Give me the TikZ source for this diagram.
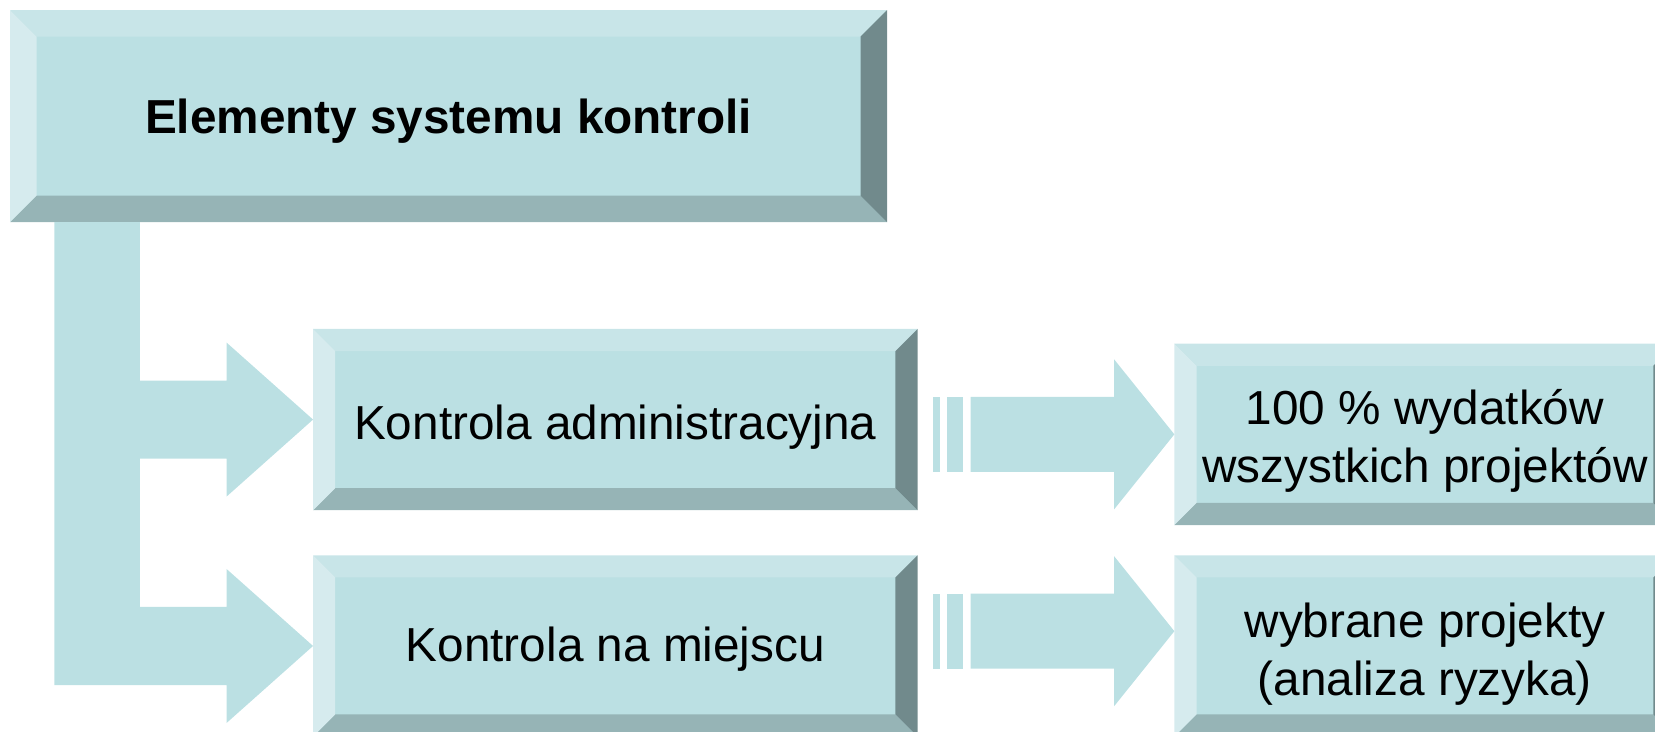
\documentclass[tikz,border=0pt]{standalone}
\usepackage{fontspec}
\setmainfont{Liberation Sans}
\usetikzlibrary{calc}

\definecolor{boxfill}{RGB}{187,224,227}
\definecolor{bevtop}{RGB}{200,229,232}
\definecolor{bevleft}{RGB}{214,235,238}
\definecolor{bevbottom}{RGB}{150,180,182}
\definecolor{bevright}{RGB}{113,138,140}

\tikzset{
    pole/.style={rectangle, fill=boxfill, inner sep=0pt, align=center,
        font=\fontsize{22.6}{27.5}\selectfont},
    flow/.style={fill=boxfill},
}

% ramka 3D wokol wezla: #1 nazwa, #2 szerokosc skosu
\newcommand{\bevel}[2]{
    \fill[bevtop] (#1.north west) -- (#1.north east) -- ($(#1.north east)+(-#2,#2)$) -- ($(#1.north west)+(#2,#2)$) -- cycle;
    \fill[bevbottom] (#1.south west) -- (#1.south east) -- ($(#1.south east)+(-#2,-#2)$) -- ($(#1.south west)+(#2,-#2)$) -- cycle;
    \fill[bevleft] (#1.north west) -- ($(#1.north west)+(#2,#2)$) -- ($(#1.south west)+(#2,-#2)$) -- (#1.south west) -- cycle;
    \fill[bevright] (#1.north east) -- ($(#1.north east)+(-#2,#2)$) -- ($(#1.south east)+(-#2,-#2)$) -- (#1.south east) -- cycle;
}

\begin{document}
\begin{tikzpicture}[x=0.5pt,y=-0.5pt]
    \useasboundingbox (0,0) rectangle (1568,693);
    \clip (0,0) rectangle (1568,693);

    \node[pole, minimum width=415pt, minimum height=100pt] (elem) at (425,110) {};
    \node[pole, minimum width=286pt, minimum height=85.5pt] (admin) at (583,397.5) {};
    \node[pole, minimum width=286pt, minimum height=85.5pt] (site) at (583,612) {};
    \node[pole, minimum width=237pt, minimum height=85.5pt] (wyd) at (1350,411.5) {};
    \node[pole, minimum width=237pt, minimum height=85.5pt] (wybr) at (1350,612) {};

    \bevel{elem}{25}
    \bevel{admin}{21}
    \bevel{site}{21}
    \bevel{wyd}{21}
    \bevel{wybr}{21}

    \node[pole, fill=none, font=\fontsize{22.6}{27.5}\selectfont\bfseries] at ($(elem.center)+(0,5)$) {Elementy systemu kontroli};
    \node[pole, fill=none] at ($(admin.center)+(0,7)$) {Kontrola administracyjna};
    \node[pole, fill=none] at ($(site.center)+(0,3)$) {Kontrola na miejscu};
    \node[pole, fill=none] at ($(wyd.center)+(0,6)$) {100 \% wydatków\\wszystkich projektów};
    \node[pole, fill=none] at ($(wybr.center)+(0,8)$) {wybrane projekty\\(analiza ryzyka)};

    % strzalka rozgaleziona
    \fill[flow] ($(elem.south west)+(42,0)$) -- ++(81,0) |- ($(admin.west)+(-82,-37)$)
        -- ++(0,-36) -- (admin.west) -- ++(-82,73) -- ++(0,-36) -- ++(-82,0)
        |- ($(site.west)+(-82,-37)$) -- ++(0,-36) -- (site.west) -- ++(-82,73)
        -- ++(0,-36) -| ($(elem.south west)+(42,0)$) -- cycle;

    % strzalki paskowane
    \coordinate (t1) at (wyd.west);
    \coordinate (t2) at ($(wybr.west)+(0,-14)$);
    \foreach \t in {t1,t2} {
        \fill[flow] ($(\t)+(-229,-35.5)$) rectangle ++(7,71);
        \fill[flow] ($(\t)+(-215,-35.5)$) rectangle ++(15,71);
        \fill[flow] ($(\t)+(-193,-35.5)$) -- ++(136,0) -- ++(0,-35.5) -- (\t)
            -- ++(-57,71) -- ++(0,-35.5) -- ++(-136,0) -- cycle;
    }
\end{tikzpicture}
\end{document}
